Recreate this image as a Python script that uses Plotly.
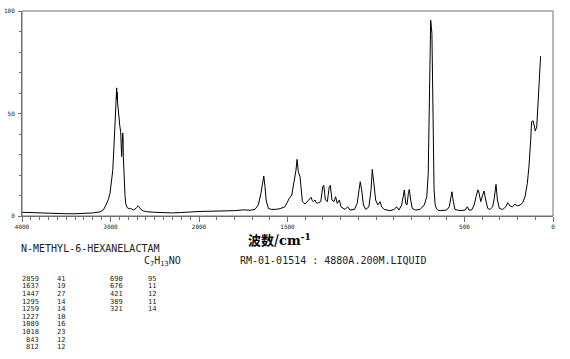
import plotly.graph_objects as go

# ---- spectrum values (wavenumber cm-1, relative intensity) ----
wavenumber = [
    4000, 3900, 3800, 3700, 3600, 3500, 3400, 3300, 3200, 3119, 3080, 3051, 3025, 3006,
    2990, 2975, 2962, 2949, 2938, 2932, 2930, 2928, 2925, 2919, 2910, 2904, 2895, 2885,
    2878, 2874, 2868, 2862, 2858, 2855, 2850, 2844, 2836, 2828, 2810, 2790, 2772, 2742,
    2725, 2712, 2700, 2686, 2672, 2659, 2630, 2591, 2500, 2400, 2300, 2200, 2100, 2000,
    1900, 1800, 1750, 1712, 1684, 1665, 1650, 1640, 1634, 1627, 1621, 1608, 1589, 1560,
    1542, 1514, 1501, 1490, 1476, 1463, 1452, 1446, 1439, 1429, 1424, 1416, 1401, 1382,
    1367, 1360, 1354, 1345, 1338, 1330, 1312, 1301, 1295, 1290, 1286, 1275, 1264, 1258,
    1253, 1249, 1237, 1228, 1219, 1207, 1198, 1175, 1160, 1147, 1122, 1106, 1096, 1089,
    1081, 1071, 1058, 1040, 1028, 1021, 1013, 1002, 990, 977, 968, 953, 921, 897, 884,
    870, 855, 846, 840, 832, 825, 817, 812, 804, 795, 776, 751, 727, 713, 705, 699, 691,
    684, 680, 676, 672, 666, 658, 650, 638, 601, 586, 576, 571, 563, 554, 525, 497, 484,
    475, 460, 445, 435, 425, 421, 416, 408, 397, 390, 380, 369, 356, 341, 332, 322, 314,
    303, 284, 267, 256, 243, 228, 215, 202, 186, 171, 158, 145, 136, 126, 121, 112, 100,
    92, 83, 74, 70,
]
intensity = [
    1.8, 1.6, 1.4, 1.3, 1.2, 1.1, 1.1, 1.2, 1.5, 2.0, 3.0, 5.4, 8.0, 11.0,
    16.0, 22.0, 33.0, 47.0, 58.0, 60.0, 62.5, 57.0, 60.5, 55.0, 50.0, 47.0, 44.0, 41.0,
    36.0, 29.0, 35.0, 40.5, 38.0, 29.0, 22.0, 17.5, 10.0, 6.0, 4.0, 3.6, 3.7, 2.9,
    3.2, 3.7, 4.3, 5.0, 4.2, 3.3, 2.5, 2.1, 1.8, 1.6, 1.5, 1.7, 1.9, 2.2,
    2.3, 2.6, 3.0, 2.8, 3.2, 5.4, 11.0, 16.7, 19.5, 14.3, 7.8, 3.7, 3.2, 3.3,
    3.6, 4.5, 7.0, 8.6, 10.2, 16.0, 22.4, 27.6, 21.6, 19.1, 12.7, 7.0, 5.8, 7.8,
    9.1, 7.5, 7.0, 7.8, 6.5, 6.2, 7.0, 14.3, 15.0, 11.0, 7.8, 7.0, 14.3, 15.0,
    11.0, 7.8, 7.0, 9.4, 6.2, 7.8, 4.5, 3.2, 4.5, 2.9, 3.2, 6.2, 12.7, 16.7,
    12.7, 5.4, 3.2, 4.5, 12.7, 22.7, 16.7, 7.8, 5.4, 7.0, 4.5, 3.2, 2.6, 3.2, 4.5,
    2.9, 5.4, 11.0, 12.7, 6.2, 5.4, 11.0, 13.0, 7.8, 3.7, 2.9, 3.2, 5.4, 9.4, 20.8, 56.0, 95.5,
    89.0, 56.5, 20.0, 13.0, 5.5, 3.5, 2.8, 2.6, 2.9, 4.5, 9.4, 11.8, 7.0, 3.2, 2.6, 2.9, 4.5,
    2.9, 2.9, 5.4, 9.4, 12.7, 12.5, 10.2, 7.0, 10.2, 12.2, 7.8, 3.7, 3.2, 4.5, 8.6, 15.4, 7.8,
    3.7, 3.2, 4.5, 6.5, 4.9, 4.5, 5.8, 4.9, 5.4, 6.5, 9.4, 16.0, 24.0, 37.0, 46.0, 46.4, 41.5,
    43.5, 56.5, 72.7, 78.0,
]

# ---- tick labels ----
ticks_high = [4000, 3000, 2000]
ticks_low = [1500, 500, 0]
y_ticks = [0, 50, 100]

# ---- texts ----
compound_name = "N-METHYL-6-HEXANELACTAM"
formula = "C<sub>7</sub>H<sub>13</sub>NO"
sample_info = "RM-01-01514 : 4880A.200M.LIQUID"
axis_title = '<b>波数/<span style="font-family:DejaVu Serif">cm<sup>-1</sup></span></b>'

# ---- peak table ----
peak_wn_1 = [2859, 1637, 1447, 1295, 1259, 1227, 1089, 1018, 843, 812]
peak_int_1 = [41, 19, 27, 14, 14, 10, 16, 23, 12, 12]
peak_wn_2 = [690, 676, 421, 389, 321]
peak_int_2 = [95, 11, 12, 11, 14]

# split into the two differently-scaled x segments (4000-2000 and 2000-0)
hi_x = [w for w in wavenumber if w >= 2000]
hi_y = [i for w, i in zip(wavenumber, intensity) if w >= 2000]
lo_x = [w for w in wavenumber if w <= 2000]
lo_y = [i for w, i in zip(wavenumber, intensity) if w <= 2000]

W, H = 570, 359
L, R, T, B = 22, 17, 11, 143
plot_w = W - L - R
plot_h = H - T - B


def px(xp):
    return (xp - L) / plot_w


def py(yp):
    return (H - B - yp) / plot_h


split = 1 / 3

line_style = dict(color="black", width=1)
fig = go.Figure()
fig.add_trace(go.Scatter(x=hi_x, y=hi_y, mode="lines", line=line_style,
                         xaxis="x", yaxis="y", showlegend=False, hoverinfo="skip"))
fig.add_trace(go.Scatter(x=lo_x, y=lo_y, mode="lines", line=line_style,
                         xaxis="x2", yaxis="y", showlegend=False, hoverinfo="skip"))

axis_col = "#707070"
tick_font = dict(family="DejaVu Sans Mono", size=6, color="#222")

common_x = dict(showline=True, linecolor=axis_col, linewidth=1, showgrid=False,
                zeroline=False, ticks="outside", ticklen=5, tickcolor=axis_col,
                tickwidth=1, tickfont=tick_font, tickmode="array", anchor="y",
                automargin=False)

fig.update_layout(
    width=W, height=H,
    margin=dict(l=L, r=R, t=T, b=B, pad=0),
    paper_bgcolor="white", plot_bgcolor="white",
    xaxis=dict(domain=[0, split], range=[4000, 2000], tickvals=ticks_high,
               ticktext=[str(v) for v in ticks_high],
               minor=dict(tickmode="array", tickvals=list(range(2100, 4000, 100)),
                          ticks="outside", ticklen=3, tickcolor=axis_col, showgrid=False),
               **common_x),
    xaxis2=dict(domain=[split, 1], range=[2000, 0], tickvals=ticks_low,
                ticktext=[str(v) for v in ticks_low],
                minor=dict(tickmode="array", tickvals=list(range(100, 2000, 100)),
                           ticks="outside", ticklen=3, tickcolor=axis_col, showgrid=False),
                **common_x),
    yaxis=dict(range=[0, 100], tickmode="array", tickvals=y_ticks,
               ticktext=[str(v) for v in y_ticks], showline=True, linecolor=axis_col,
               linewidth=1, showgrid=False, zeroline=False, ticks="outside", ticklen=3,
               tickcolor=axis_col, tickfont=tick_font, ticklabelstandoff=2,
               automargin=False,
               minor=dict(tickmode="array", tickvals=list(range(10, 100, 10)),
                          ticks="outside", ticklen=2, tickcolor=axis_col, showgrid=False)),
    shapes=[dict(type="rect", xref="paper", yref="paper", x0=0, x1=1, y0=0, y1=1,
                 line=dict(color=axis_col, width=1), fillcolor="rgba(0,0,0,0)", layer="above")],
)

mono = "DejaVu Sans Mono"
anns = []


def add_text(text, xp, yp, size, xanchor="left", family=mono, color="#222"):
    anns.append(dict(text=text, x=px(xp), y=py(yp), xref="paper", yref="paper",
                     xanchor=xanchor, yanchor="middle", showarrow=False, borderpad=0,
                     font=dict(family=family, size=size, color=color)))


add_text(axis_title, 279, 239, 13, xanchor="center", family="Noto Sans CJK SC", color="black")
add_text(compound_name, 20, 248.7, 10)
add_text(formula, 143, 261.5, 10)
add_text(sample_info, 239, 260, 10)

row0, drow = 278.8, 7.6
for i, (w, v) in enumerate(zip(peak_wn_1, peak_int_1)):
    add_text(str(w), 39.5, row0 + i * drow, 7, xanchor="right")
    add_text(str(v), 55.5, row0 + i * drow, 7)
for i, (w, v) in enumerate(zip(peak_wn_2, peak_int_2)):
    add_text(str(w), 124, row0 + i * drow, 7, xanchor="right")
    add_text(str(v), 146.5, row0 + i * drow, 7)

fig.update_layout(annotations=anns)
fig.write_html("out.html")
